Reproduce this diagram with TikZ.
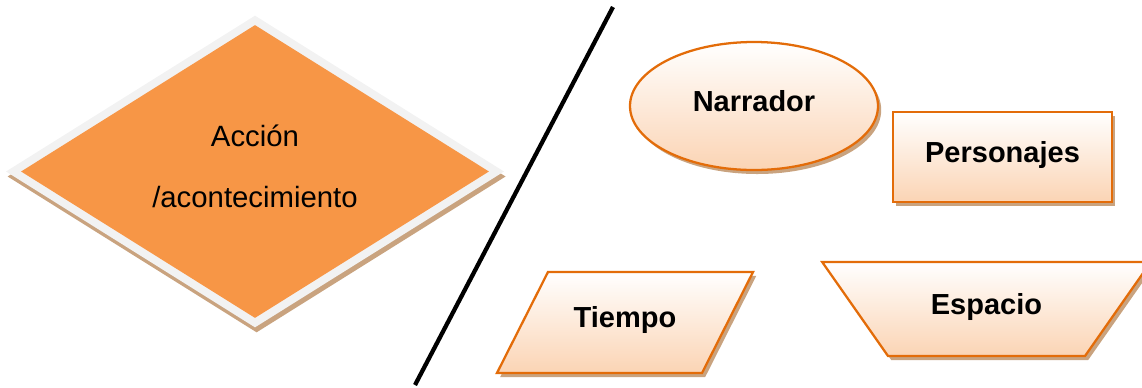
\documentclass[tikz,border=0pt]{standalone}
\usepackage{fontspec}
\setmainfont{Liberation Sans}
\usepackage{tikz}
\usetikzlibrary{shapes,shadows,positioning}
\definecolor{accorange}{HTML}{F79646}
\definecolor{bandgray}{HTML}{F2F2F2}
\definecolor{shadetan}{HTML}{C9A37F}
\definecolor{edgeorange}{HTML}{E36C09}
\definecolor{peach}{HTML}{FBD4B4}
\tikzstyle{orangediamond}=[diamond, aspect=1.6, inner sep=0pt, align=center, fill=accorange, minimum width=351pt, minimum height=219.75pt, font=\fontsize{22}{45.75}\selectfont, text depth=8.5pt, preaction={draw=shadetan, line width=12pt, transform canvas={shift={(1.2pt,-3.75pt)}}}, preaction={draw=bandgray, line width=12pt}]
\tikzstyle{peachshape}=[draw=edgeorange, line width=1.7pt, top color=white, bottom color=peach, inner sep=0pt, align=center, font=\fontsize{21.75}{26}\selectfont\bfseries, text height=16.3pt, text depth=8.7pt, drop shadow={shadow xshift=2.4pt, shadow yshift=-3pt, fill=shadetan, opacity=1}]
\tikzstyle{peachellipse}=[peachshape, ellipse, minimum width=186pt, minimum height=96pt]
\tikzstyle{peachblock}=[peachshape, rectangle, minimum width=164.25pt, minimum height=67.5pt]
\tikzstyle{peachslant}=[peachshape, trapezium, trapezium left angle=63.2, trapezium right angle=116.8, text width=115.5pt, inner ysep=25.4pt]
\tikzstyle{peachtrap}=[peachshape, trapezium, trapezium left angle=125, trapezium right angle=125, text width=147.75pt, inner ysep=22.75pt]
\tikzstyle{divider}=[line width=3.2pt, black]

\begin{document}
\begin{tikzpicture}[x=0.75pt, y=-0.75pt]
\useasboundingbox (0,0) rectangle (1142,387);

\node[orangediamond] (act) at (255,171.5) {Acción\\/acontecimiento};

\node[peachellipse] (narr) at (754,106) {Narrador};
\node[peachblock] (pers) at (1002.5,157) {Personajes};
\node[peachslant] (time) at (625,322.5) {Tiempo};
\node[peachtrap] (space) at (986.5,309) {Espacio};

% dividing stroke
\coordinate (dtop) at (613,7);
\coordinate (dbot) at (415,385);
\draw[divider] (dtop) -- (dbot);

\end{tikzpicture}
\end{document}
